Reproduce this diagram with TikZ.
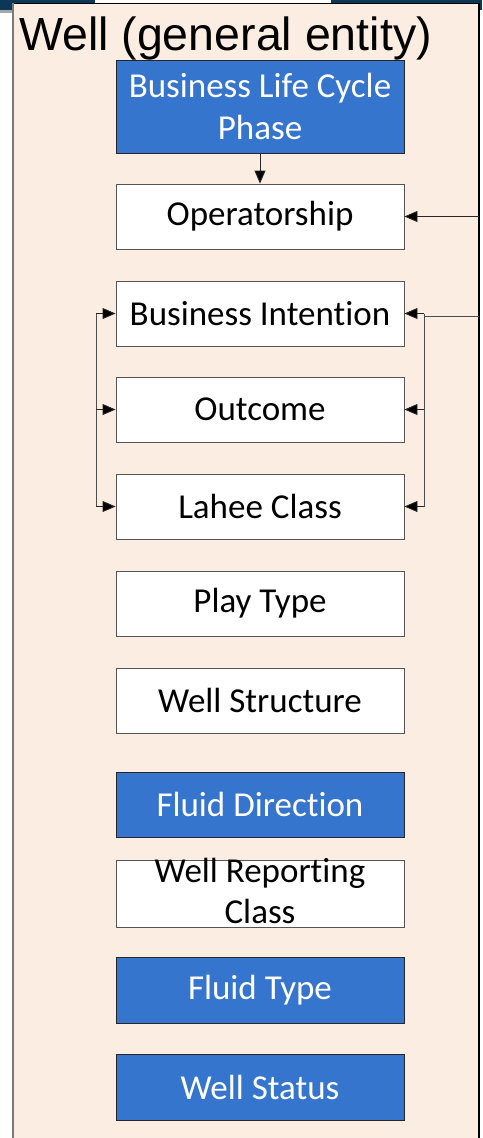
\documentclass[tikz,border=0pt]{standalone}
\usepackage{fontspec}
\setmainfont{Liberation Sans}
\newfontfamily\boxfont[Ligatures={NoCommon,NoRequired,NoContextual}]{Carlito}
\usetikzlibrary{arrows.meta}

\definecolor{navy}{HTML}{0C3756}
\definecolor{peach}{HTML}{FCEDE2}
\definecolor{phaseblue}{HTML}{3675CD}
\definecolor{edgegray}{HTML}{555555}
\definecolor{panelgray}{HTML}{7A7A7A}

\tikzset{
  entity/.style={draw=edgegray, line width=0.9pt, fill=white,
    minimum width=288pt, minimum height=65pt, inner sep=0pt,
    align=center, font=\boxfont\fontsize{35}{42}\selectfont, text=black},
  keyentity/.style={entity, draw=black!85, fill=phaseblue, text=white},
  link/.style={line width=0.9pt, draw=black!85,
    -{Triangle[length=13pt,width=11pt,fill=black]}},
  rail/.style={line width=0.9pt, draw=black!70},
}

\begin{document}
\begin{tikzpicture}[x=1pt, y=-1pt]
  \useasboundingbox (0,0) rectangle (482,1138);

  % header band of the slide
  \fill[navy] (0,0) rectangle (482,10);
  \fill[black!35] (0,10) rectangle (13,13);
  \fill[white] (95,0) rectangle (331,3);

  % panel
  \fill[peach] (13,3) rectangle (479,1138);
  \draw[black, line width=1pt] (13,3) -- (479,3);
  \draw[panelgray, line width=2pt] (13,3) -- (13,1138);
  \draw[black, line width=1.5pt] (479,3) -- (479,1138);

  \node[anchor=base west, inner sep=0pt, font=\fontsize{46.5}{50}\selectfont]
    (title) at (19,50) {Well (general entity)};

  % entities
  \node[keyentity, minimum height=93pt] (phase) at (260,106.5) {Business Life Cycle\\Phase};
  \node[entity] (oper)   at (260,216.5) {Operatorship};
  \node[entity] (intent) at (260,313.5) {Business Intention};
  \node[entity] (outc)   at (260,409.5) {Outcome};
  \node[entity] (lahee)  at (260,506.5) {Lahee Class};
  \node[entity] (play)   at (260,603.5) {Play Type};
  \node[entity] (struct) at (260,700.5) {Well Structure};
  \node[keyentity] (fdir) at (260,804.5) {Fluid Direction};
  \node[entity, minimum height=67pt] (wrc) at (260,893.5) {};
  \node[inner sep=0pt, align=center, font=\boxfont\fontsize{35}{41}\selectfont]
    (wrctext) at (260,891) {Well Reporting\\Class};
  \node[keyentity, minimum height=66pt] (ftype)  at (260,990) {Fluid Type};
  \node[keyentity, minimum height=66pt] (status) at (260,1087) {Well Status};

  % phase drives operatorship
  \draw[link] (phase.south) -- (oper.north);

  % incoming links from the right
  \coordinate (inop) at (479,216.5);
  \draw[link] (inop) -- (oper.east);
  \coordinate (inbr) at (479,316);
  \coordinate (rbtop) at (424,313.5);
  \coordinate (rbmid) at (424,409.5);
  \coordinate (rbbot) at (424,506.5);
  \draw[rail] (inbr) -- (424,316);
  \draw[rail] (rbtop) -- (rbbot);
  \draw[link] (rbtop) -- (intent.east);
  \draw[link] (rbmid) -- (outc.east);
  \draw[link] (rbbot) -- (lahee.east);

  % left bracket
  \coordinate (lbtop) at (96,313.5);
  \coordinate (lbmid) at (96,409.5);
  \coordinate (lbbot) at (96,506.5);
  \draw[rail] (lbtop) -- (lbbot);
  \draw[link] (lbtop) -- (intent.west);
  \draw[link] (lbmid) -- (outc.west);
  \draw[link] (lbbot) -- (lahee.west);
\end{tikzpicture}
\end{document}
